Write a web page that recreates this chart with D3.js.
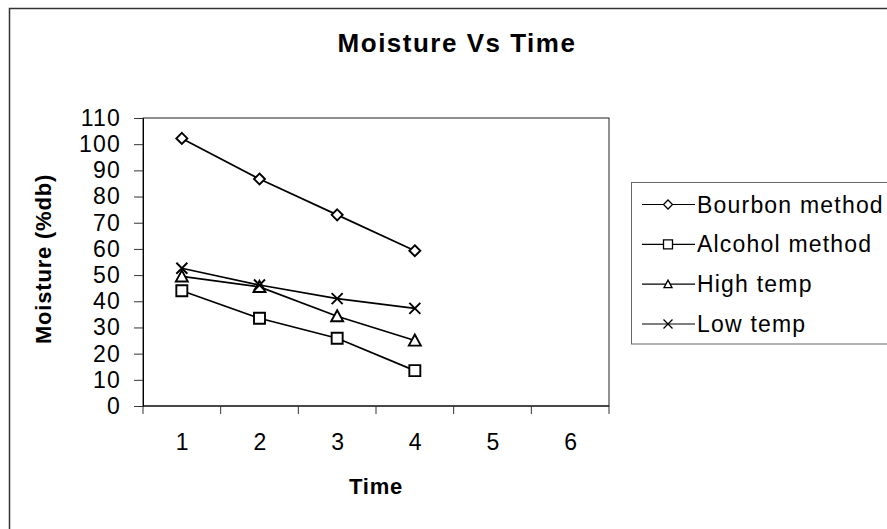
<!DOCTYPE html>
<html>
<head>
<meta charset="utf-8">
<script src="https://cdn.jsdelivr.net/npm/d3@7/dist/d3.min.js"></script>
<style>
  html, body { margin: 0; padding: 0; background: #fff; }
  svg { display: block; font-family: "Liberation Sans", Arial, sans-serif; }
</style>
</head>
<body>
<svg id="chart" width="887" height="529"></svg>
<script>
// Drying data: moisture content (%db) at each time step
const timeLabels = ["1", "2", "3", "4", "5", "6"];
const yTicks = [0, 10, 20, 30, 40, 50, 60, 70, 80, 90, 100, 110];
const seriesNames = ["Bourbon method", "Alcohol method", "High temp", "Low temp"];
const bourbon = [102.2, 86.7, 73.0, 59.3];
const alcohol = [44.0, 33.5, 25.9, 13.5];
const highTemp = [49.5, 45.5, 34.3, 25.0];
const lowTemp = [52.6, 46.2, 41.0, 37.3];
const seriesValues = [bourbon, alcohol, highTemp, lowTemp];
const markerTypes = ["diamond", "square", "triangle", "cross"];

const svg = d3.select("#chart");
const plot = { left: 143, top: 118, right: 609, bottom: 406 };

const x = d3.scaleBand().domain(timeLabels).range([plot.left, plot.right]);
const y = d3.scaleLinear().domain([0, 110]).range([plot.bottom, plot.top]);

// Outer chart frame (runs off the right and bottom edges)
svg.append("rect")
  .attr("x", 9.5).attr("y", 8.5).attr("width", 1000).attr("height", 1000)
  .attr("fill", "none").attr("stroke", "#333").attr("stroke-width", 1.5);

// Title
svg.append("text")
  .attr("x", 457).attr("y", 52)
  .attr("text-anchor", "middle")
  .attr("font-size", 26).attr("font-weight", "bold")
  .attr("letter-spacing", 1.5)
  .text("Moisture Vs Time");

// Plot area border
svg.append("rect")
  .attr("x", plot.left).attr("y", plot.top)
  .attr("width", plot.right - plot.left).attr("height", plot.bottom - plot.top)
  .attr("fill", "none").attr("stroke", "#222").attr("stroke-width", 1);

// Y axis
const yAxis = svg.append("g")
  .attr("transform", `translate(${plot.left},0)`)
  .call(d3.axisLeft(y).tickValues(yTicks).tickSize(9).tickPadding(13).tickFormat(d3.format("d")));
yAxis.select(".domain").attr("stroke", "#000");
yAxis.selectAll(".tick line").attr("stroke", "#333");
yAxis.selectAll(".tick text")
  .attr("font-size", 23).attr("letter-spacing", 1.2)
  .attr("fill", "#000").attr("font-family", "Liberation Sans, Arial, sans-serif");

// X axis: tick marks between categories, labels centred in each band
const xAxisG = svg.append("g").attr("transform", `translate(0,${plot.bottom})`);
xAxisG.append("line")
  .attr("x1", plot.left).attr("x2", plot.right)
  .attr("stroke", "#000");
const boundaries = timeLabels.map(d => x(d)).concat([x.range()[1]]);
xAxisG.selectAll("line.tick")
  .data(boundaries).enter().append("line")
  .attr("class", "tick")
  .attr("x1", d => d).attr("x2", d => d)
  .attr("y1", 0).attr("y2", 8)
  .attr("stroke", "#333");
xAxisG.selectAll("text.tick-label")
  .data(timeLabels).enter().append("text")
  .attr("class", "tick-label")
  .attr("x", d => x(d) + x.bandwidth() / 2 + 1)
  .attr("y", 44)
  .attr("text-anchor", "middle")
  .attr("font-size", 23).attr("letter-spacing", 1.2)
  .text(d => d);

// Axis titles
svg.append("text")
  .attr("x", 376).attr("y", 494)
  .attr("text-anchor", "middle")
  .attr("font-size", 22).attr("font-weight", "bold").attr("letter-spacing", 0.8)
  .text("Time");

svg.append("text")
  .attr("transform", "translate(51,259) rotate(-90)")
  .attr("text-anchor", "middle")
  .attr("font-size", 22).attr("font-weight", "bold").attr("letter-spacing", 0.8)
  .text("Moisture (%db)");

// Marker shapes
function markerPath(type, s) {
  const h = s / 2;
  switch (type) {
    case "diamond": return `M0,${-h}L${h},0L0,${h}L${-h},0Z`;
    case "square": return `M${-h},${-h}H${h}V${h}H${-h}Z`;
    case "triangle": return `M0,${-h}L${h},${h * 0.85}H${-h}Z`;
    case "cross": return `M${-h},${-h}L${h},${h}M${h},${-h}L${-h},${h}`;
  }
}

const line = d3.line()
  .x((d, i) => x(timeLabels[i]) + x.bandwidth() / 2)
  .y(d => y(d));

seriesValues.forEach((vals, si) => {
  svg.append("path")
    .attr("d", line(vals))
    .attr("fill", "none").attr("stroke", "#000").attr("stroke-width", 1.7);
  svg.selectAll(null)
    .data(vals).enter().append("path")
    .attr("transform", (d, i) => `translate(${x(timeLabels[i]) + x.bandwidth() / 2},${y(d)})`)
    .attr("d", markerPath(markerTypes[si], markerTypes[si] === "triangle" ? 12 : 11))
    .attr("fill", markerTypes[si] === "cross" ? "none" : "#fff")
    .attr("stroke", "#000").attr("stroke-width", 1.9);
});

// Legend
const legend = svg.append("g");
legend.append("rect")
  .attr("x", 631.5).attr("y", 182.5).attr("width", 400).attr("height", 161.5)
  .attr("fill", "#fff").attr("stroke", "#666").attr("stroke-width", 1);
const rowY = d3.scalePoint().domain(seriesNames).range([204.5, 324]);
seriesNames.forEach((name, si) => {
  const cy = rowY(name);
  legend.append("line")
    .attr("x1", 642).attr("x2", 695).attr("y1", cy).attr("y2", cy)
    .attr("stroke", "#000").attr("stroke-width", 1.2);
  legend.append("path")
    .attr("transform", `translate(668,${cy})`)
    .attr("d", markerPath(markerTypes[si], markerTypes[si] === "triangle" ? 8 : 9))
    .attr("fill", markerTypes[si] === "cross" ? "none" : "#fff")
    .attr("stroke", "#000").attr("stroke-width", 1.3);
  legend.append("text")
    .attr("x", 697).attr("y", cy + 8)
    .attr("font-size", 23).attr("letter-spacing", 1.2)
    .text(name);
});
</script>
</body>
</html>
